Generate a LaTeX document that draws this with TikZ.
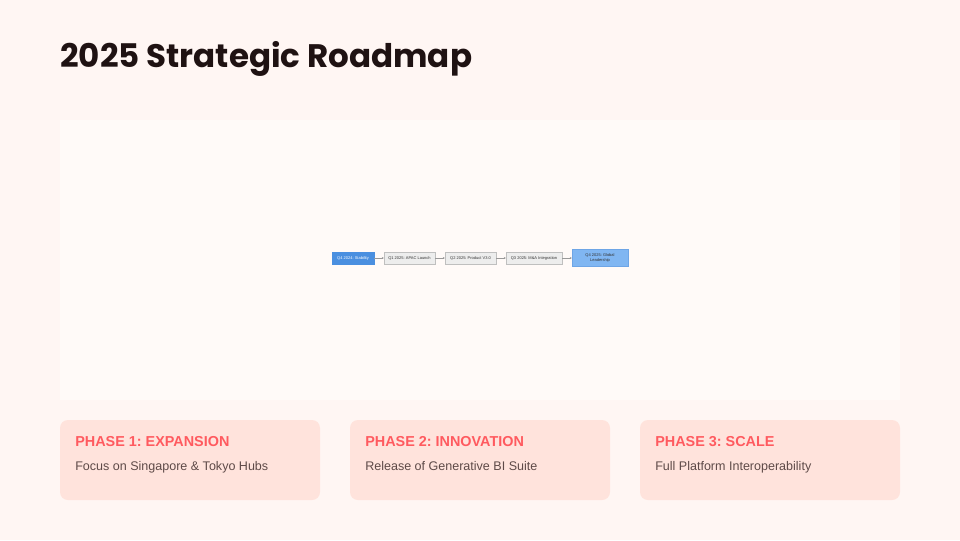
\documentclass[tikz,border=0pt]{standalone}
\usepackage{fontspec}
\setmainfont{Liberation Sans}
\newfontfamily\headfont{Poppins}
\usetikzlibrary{positioning,arrows.meta}
\frenchspacing
\definecolor{pagebg}{HTML}{FFF6F3}
\definecolor{panelbg}{HTML}{FFFAF8}
\definecolor{cardbg}{HTML}{FFE3DC}
\definecolor{phasered}{HTML}{FF5A5F}
\definecolor{desctext}{HTML}{5E4A48}
\definecolor{titleink}{HTML}{1F1212}
\definecolor{stepblue}{HTML}{4A8FE0}
\definecolor{goalblue}{HTML}{80B6F2}
\newcommand*{\tinytext}{\fontsize{3}{3.6}\selectfont}
\newcommand{\phasecard}[3]{%
% left edge, heading, description
  \fill[cardbg, rounded corners=6pt] (#1,420) rectangle ++(260,80);
  \node[anchor=base west, inner sep=0, text=phasered,
    font=\fontsize{10.8}{13}\selectfont\bfseries] at (#1+15,446.5) {#2};
  \node[anchor=base west, inner sep=0, text=desctext,
    font=\fontsize{9.4}{11}\selectfont] at (#1+15,470.5) {#3};
}
\tikzset{
  milestone/.style = {draw=black!25, fill=black!7, line width=0.3pt,
    minimum height=9pt, inner sep=1pt, font=\tinytext, text=black!80},
  startstone/.style = {milestone, draw=stepblue, fill=stepblue, text=white},
  goalstone/.style = {milestone, draw=stepblue!80, fill=goalblue,
    minimum height=12.75pt, align=center},
  linkline/.style = {draw=black!40, line width=0.4pt,
    -{Stealth[length=1.5pt,width=1.5pt]}}
}
\begin{document}
\begin{tikzpicture}[x=0.75pt, y=-0.75pt, node distance=7.2pt]
  \useasboundingbox[fill=pagebg] (0,0) rectangle (960,540);
  \fill[panelbg] (60,120) rectangle (900,400);

  \node[anchor=base west, inner sep=0, text=titleink,
    font=\headfont\bfseries\fontsize{24.4}{28}\selectfont] (title) at (60,67)
    {2025 Strategic Roadmap};

  % timeline
  \node[startstone, minimum width=31.5pt] (q4a) at (353,258) {Q4 2024: Stability};
  \node[milestone, minimum width=38.25pt, right=of q4a] (q1) {Q1 2025: APAC Launch};
  \node[milestone, minimum width=38.25pt, right=of q1] (q2) {Q2 2025: Product V3.0};
  \node[milestone, minimum width=42pt, right=of q2] (q3) {Q3 2025: M\&A Integration};
  \node[goalstone, minimum width=42pt, right=of q3] (q4b) {Q4 2025: Global\\Leadership};
  \foreach \a/\b in {q4a/q1, q1/q2, q2/q3, q3/q4b}
    \draw[linkline] (\a) -- (\b);

  % phases
  \phasecard{60}{PHASE 1: EXPANSION}{Focus on Singapore \& Tokyo Hubs}
  \phasecard{350}{PHASE 2: INNOVATION}{Release of Generative BI Suite}
  \phasecard{640}{PHASE 3: SCALE}{Full Platform Interoperability}
\end{tikzpicture}
\end{document}
